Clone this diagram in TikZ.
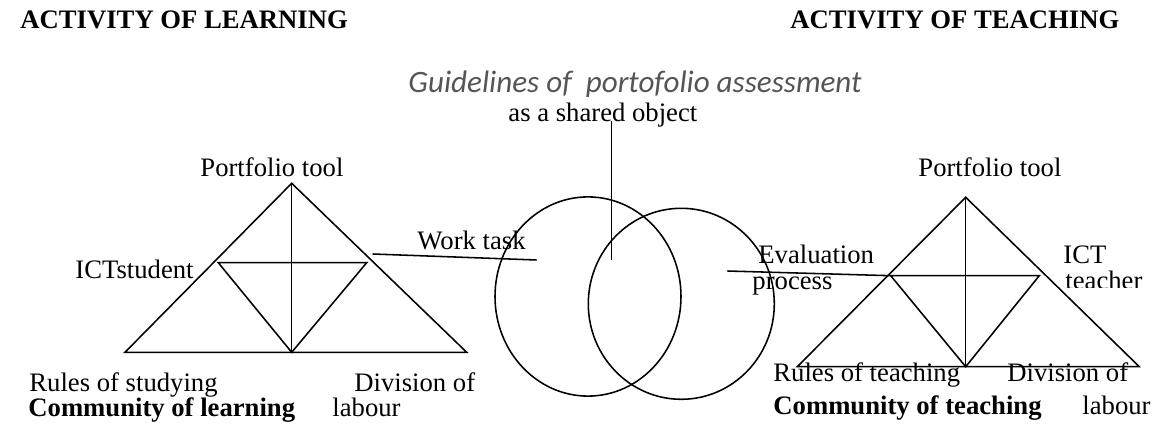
\documentclass[tikz,border=0pt]{standalone}
\usepackage{fontspec}
\setmainfont{Liberation Serif}
\newfontfamily\guidefont{Carlito}
\definecolor{GuideGray}{RGB}{85,85,85}

\begin{document}
\begin{tikzpicture}[x=0.45pt, y=-0.45pt, font=\fontsize{12}{14}\selectfont,
	lbl/.style={anchor=base west, inner sep=0pt},
	hd/.style={lbl, font=\fontsize{12}{14}\selectfont\bfseries},
	edge/.style={line width=0.7pt}]
	\useasboundingbox (0,0) rectangle (1152,426);
	% headings
	\node[hd] (lhead) at (20,29) {ACTIVITY OF LEARNING};
	\node[hd] (rhead) at (790,29) {ACTIVITY OF TEACHING};
	\node[lbl, font=\fontsize{14}{16}\guidefont\itshape, text=GuideGray] (guide) at (408,93)
		{Guidelines of\ \ portofolio assessment};
	\node[lbl] (shared) at (508,122) {as a shared object};
	% learning triangle
	\coordinate (la) at (291.7,183.3);
	\coordinate (lbl) at (125,352.3);
	\coordinate (lbr) at (466.7,352.3);
	\coordinate (lbm) at (291.7,352.3);
	\coordinate (lil) at (218.3,262.7);
	\coordinate (lir) at (366.7,262.7);
	\draw[edge] (la) -- (lbl) -- (lbr) -- cycle;
	\draw[edge] (lil) -- (lir) -- (lbm) -- cycle;
	\draw[edge] (la) -- (lbm);
	\node[lbl] (ltool) at (200,177) {Portfolio tool};
	\node[lbl] (lstud) at (75,279) {ICTstudent};
	\node[lbl] (lrules) at (29,392) {Rules of studying};
	\node[lbl, font=\fontsize{12}{14}\selectfont\bfseries] (lcomm) at (28,417) {Community of learning};
	\node[lbl] (ldiv) at (354,392) {Division of};
	\node[lbl] (llab) at (332,417) {labour};
	% shared object
	\draw[edge] (588,296.5) ellipse [x radius=93, y radius=99.6];
	\draw[edge] (681.3,303.8) ellipse [x radius=93, y radius=95.5];
	\coordinate (objtop) at (611.3,121);
	\coordinate (objbot) at (611.3,260);
	\draw[edge] (objtop) -- (objbot);
	\coordinate (wts) at (372.7,254);
	\coordinate (wte) at (536.7,260);
	\draw[edge] (wts) -- (wte);
	\node[lbl] (work) at (417,250) {Work task};
	% teaching triangle
	\coordinate (ra) at (965.7,197.3);
	\coordinate (rbl) at (797.3,366.7);
	\coordinate (rbr) at (1139.3,366.7);
	\coordinate (rbm) at (965.7,366.7);
	\coordinate (ril) at (890.7,275.7);
	\coordinate (rir) at (1039.3,275.7);
	\draw[edge] (ra) -- (rbl) -- (rbr) -- cycle;
	\draw[edge] (ril) -- (rir) -- (rbm) -- cycle;
	\draw[edge] (ra) -- (rbm);
	\coordinate (evs) at (727.3,271);
	\draw[edge] (evs) -- (ril);
	\node[lbl] (rtool) at (918,177) {Portfolio tool};
	\node[lbl] (eval) at (758,264) {Evaluation};
	\node[lbl] (proc) at (752,290) {process};
	\node[lbl] (rict) at (1063,264) {ICT};
	\begin{scope}
		\clip (1055,270) rectangle (1152,288);
		\node[lbl] (rteach) at (1065,290) {teacher};
	\end{scope}
	\node[lbl] (rrules) at (773,382) {Rules of teaching};
	\node[lbl] (rdiv) at (1007,382) {Division of};
	\node[lbl, font=\fontsize{12}{14}\selectfont\bfseries] (rcomm) at (773,415) {Community of teaching};
	\node[lbl] (rlab) at (1082,415) {labour};
\end{tikzpicture}
\end{document}
